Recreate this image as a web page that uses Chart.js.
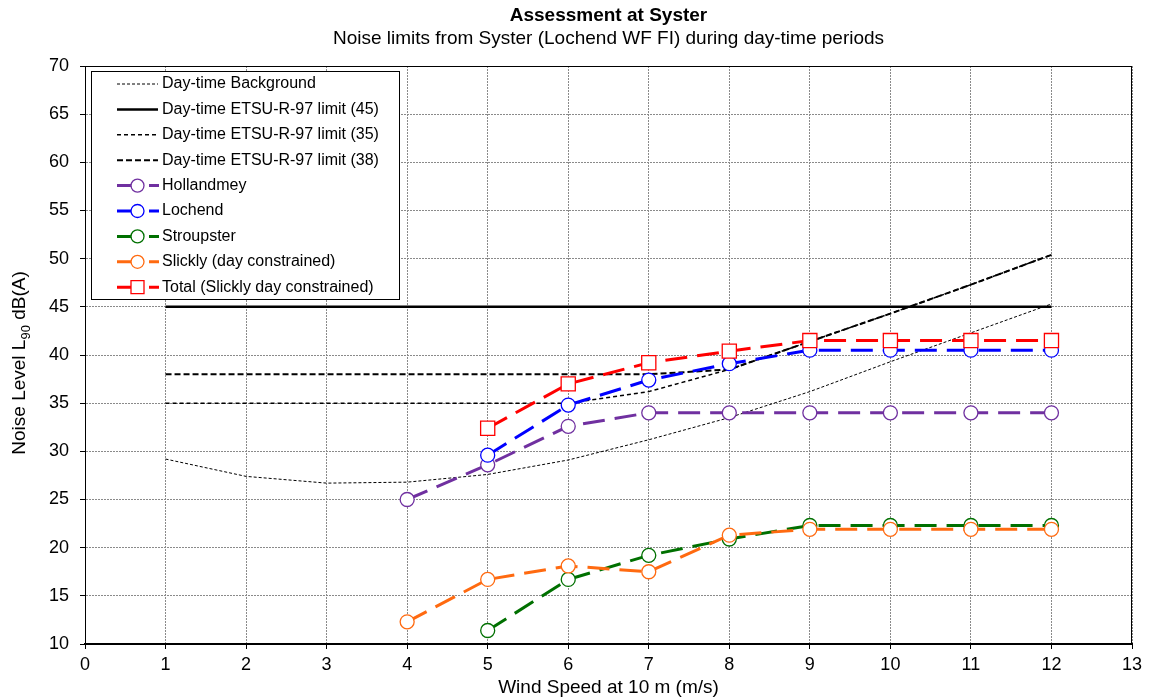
<!DOCTYPE html>
<html>
<head>
<meta charset="utf-8">
<script src="https://cdn.jsdelivr.net/npm/chart.js@4.4.0/dist/chart.umd.min.js"></script>
<style>
  body { margin: 0; background: #fff; }
  #wrap { width: 1149px; height: 700px; }
</style>
</head>
<body>
<div id="wrap"><canvas id="chart"></canvas></div>
<script>
const titleText = "Assessment at Syster";
const subtitleText = "Noise limits from Syster (Lochend WF FI) during day-time periods";
const xTitle = "Wind Speed at 10 m (m/s)";

// wind speeds (m/s)
const limitSpeeds = [1, 2, 3, 4, 5, 6, 7, 8, 9, 10, 11, 12];
const turbineSpeeds = [4, 5, 6, 7, 8, 9, 10, 11, 12];

// day-time background and limits, dB(A)
const background = [29.2, 27.4, 26.7, 26.8, 27.6, 29.1, 31.2, 33.5, 36.2, 39.3, 42.3, 45.3];
const limit45 = [45, 45, 45, 45, 45, 45, 45, 45, 45, 45, 45, 45];
const limit35 = [35, 35, 35, 35, 35, 35, 36.2, 38.5, 41.4, 44.3, 47.3, 50.4];
const limit38 = [38, 38, 38, 38, 38, 38, 38, 38.5, 41.4, 44.3, 47.3, 50.4];

// predicted turbine levels, dB(A)
const hollandmey = [25.0, 28.6, 32.6, 34.0, 34.0, 34.0, 34.0, 34.0, 34.0];
const lochend = [null, 29.6, 34.8, 37.4, 39.1, 40.5, 40.5, 40.5, 40.5];
const stroupster = [null, 11.4, 16.7, 19.2, 20.9, 22.3, 22.3, 22.3, 22.3];
const slickly = [12.3, 16.7, 18.1, 17.5, 21.3, 21.9, 21.9, 21.9, 21.9];
const total = [null, 32.4, 37.0, 39.2, 40.4, 41.5, 41.5, 41.5, 41.5];

const xTicks = [0, 1, 2, 3, 4, 5, 6, 7, 8, 9, 10, 11, 12, 13];
const yTicks = [10, 15, 20, 25, 30, 35, 40, 45, 50, 55, 60, 65, 70];

const FONT = "'Liberation Sans', Arial, sans-serif";

function pts(xs, ys) {
  return xs.map((x, i) => ({ x: x, y: ys[i] })).filter((p) => p.y !== null);
}

function limitSet(label, ys, width, dash) {
  return {
    label, data: pts(limitSpeeds, ys),
    borderColor: "#000", borderWidth: width, borderDash: dash,
    pointRadius: 0, fill: false, tension: 0, order: 5,
  };
}

function turbineSet(label, ys, color, style, radius, order) {
  return {
    label, data: pts(turbineSpeeds, ys),
    borderColor: color, borderWidth: 3, borderDash: [22, 10],
    pointStyle: style, pointRadius: radius, pointBorderWidth: 1.3,
    pointBackgroundColor: "#fff", pointBorderColor: color,
    fill: false, tension: 0, order,
  };
}

const datasets = [
  limitSet("Day-time Background", background, 1, [3, 2]),
  limitSet("Day-time ETSU-R-97 limit (45)", limit45, 2.5, []),
  limitSet("Day-time ETSU-R-97 limit (35)", limit35, 1.5, [4, 3]),
  limitSet("Day-time ETSU-R-97 limit (38)", limit38, 2, [6, 3]),
  turbineSet("Hollandmey", hollandmey, "#7030A0", "circle", 7, 4),
  turbineSet("Lochend", lochend, "#0000FF", "circle", 7, 3),
  turbineSet("Stroupster", stroupster, "#007000", "circle", 7, 2),
  turbineSet("Slickly (day constrained)", slickly, "#FF6A10", "circle", 7, 1),
  turbineSet("Total (Slickly day constrained)", total, "#FF0000", "rect", 10, 0),
];

const decorations = {
  id: "decorations",
  beforeDatasetsDraw(chart) {
    const { ctx, chartArea: a } = chart;
    ctx.save();
    ctx.strokeStyle = "#000";
    ctx.lineWidth = 1;
    ctx.strokeRect(a.left + 0.5, a.top + 0.5, a.right - a.left - 1, a.bottom - a.top);
    ctx.restore();
  },
  afterDraw(chart) {
    const { ctx, chartArea: a } = chart;
    const cx = (a.left + a.right) / 2;
    ctx.save();
    ctx.fillStyle = "#000";
    ctx.textAlign = "center";
    ctx.textBaseline = "middle";
    ctx.font = "bold 19px " + FONT;
    ctx.fillText(titleText, cx, 16);
    ctx.font = "19px " + FONT;
    ctx.fillText(subtitleText, cx, 39);
    ctx.fillText(xTitle, cx, 688);

    // y axis title with subscript
    ctx.translate(20, (a.top + a.bottom) / 2 + 8);
    ctx.rotate(-Math.PI / 2);
    ctx.textAlign = "left";
    const p1 = "Noise Level L", sub = "90", p2 = " dB(A)";
    ctx.font = "19px " + FONT;
    const w1 = ctx.measureText(p1).width, w3 = ctx.measureText(p2).width;
    ctx.font = "13px " + FONT;
    const w2 = ctx.measureText(sub).width;
    let x = -(w1 + w2 + w3) / 2;
    ctx.font = "19px " + FONT;
    ctx.fillText(p1, x, 0);
    ctx.font = "13px " + FONT;
    ctx.fillText(sub, x + w1, 6);
    ctx.font = "19px " + FONT;
    ctx.fillText(p2, x + w1 + w2, 0);
    ctx.restore();

    // legend
    const bx = 91, by = 71, bw = 308, bh = 228, rowH = 25.4;
    ctx.save();
    ctx.fillStyle = "#fff";
    ctx.fillRect(bx, by, bw, bh);
    ctx.strokeStyle = "#000";
    ctx.lineWidth = 1;
    ctx.strokeRect(bx + 0.5, by + 0.5, bw, bh);
    chart.data.datasets.forEach((ds, i) => {
      const y = by + 13 + i * rowH;
      ctx.strokeStyle = ds.borderColor;
      ctx.lineWidth = ds.borderWidth;
      if (ds.pointRadius) {
        ctx.setLineDash([]);
        ctx.beginPath();
        ctx.moveTo(117, y); ctx.lineTo(132, y);
        ctx.moveTo(149, y); ctx.lineTo(159, y);
        ctx.stroke();
        ctx.fillStyle = "#fff";
        ctx.lineWidth = 1.3;
        ctx.beginPath();
        if (ds.pointStyle === "rect") {
          ctx.rect(131, y - 6.5, 13, 13);
        } else {
          ctx.arc(137.5, y, 6.5, 0, Math.PI * 2);
        }
        ctx.fill();
        ctx.stroke();
      } else {
        ctx.setLineDash(ds.borderDash);
        ctx.beginPath();
        ctx.moveTo(117, y); ctx.lineTo(158, y);
        ctx.stroke();
      }
      ctx.setLineDash([]);
      ctx.fillStyle = "#000";
      ctx.font = "16px " + FONT;
      ctx.textAlign = "left";
      ctx.textBaseline = "middle";
      ctx.fillText(ds.label, 162, y);
    });
    ctx.restore();
  },
};

const gridLines = {
  color: "#8a8a8a",
  lineWidth: 1,
  tickLength: 5,
  tickColor: "#000",
};

new Chart(document.getElementById("chart"), {
  type: "line",
  data: { datasets },
  options: {
    responsive: true,
    maintainAspectRatio: false,
    animation: false,
    layout: { padding: { top: 66, right: 17, bottom: 0, left: 0 } },
    plugins: { legend: { display: false }, tooltip: { enabled: false } },
    scales: {
      x: {
        type: "linear", min: 0, max: 13,
        afterBuildTicks: (s) => { s.ticks = xTicks.map((v) => ({ value: v })); },
        afterFit: (s) => { s.height = 56; },
        grid: gridLines,
        border: { color: "#000", width: 2, dash: [2, 1] },
        ticks: { color: "#000", font: { family: FONT, size: 18 }, padding: 5, maxRotation: 0 },
      },
      y: {
        min: 10, max: 70,
        afterBuildTicks: (s) => { s.ticks = yTicks.map((v) => ({ value: v })); },
        afterFit: (s) => { s.width = 85; },
        grid: gridLines,
        border: { color: "#000", width: 1, dash: [2, 1] },
        ticks: { color: "#000", font: { family: FONT, size: 18 }, padding: 11 },
      },
    },
  },
  plugins: [decorations],
});
</script>
</body>
</html>
